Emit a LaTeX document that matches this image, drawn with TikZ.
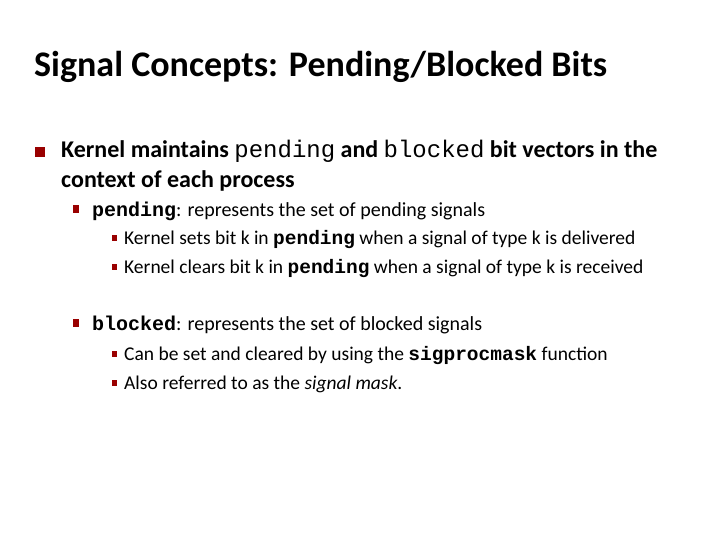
\documentclass[tikz,border=0pt]{standalone}
\usepackage{fontspec}
\setmainfont{Carlito}
\setmonofont{Liberation Mono}
\definecolor{bul}{RGB}{153,0,0}
\begin{document}
\begin{tikzpicture}[x=1pt,y=-1pt,
  txt/.style={anchor=base west,inner sep=0pt},
  lone/.style={txt,font=\fontsize{24}{28}\selectfont\bfseries},
  ltwo/.style={txt,font=\fontsize{20}{23}\selectfont},
  lthree/.style={txt,font=\fontsize{19.5}{22}\selectfont},
  bsq/.style={fill=bul,inner sep=0pt,draw=none}]
\useasboundingbox (0,0) rectangle (720,540);
\fill[white] (0,0) rectangle (720,540);
\node[txt,font=\fontsize{36}{40}\selectfont\bfseries] (title) at (34,77) {Signal Concepts: Pending/Blocked Bits};
\node[bsq,minimum size=10pt] (b1) at (40,152) {};
\node[lone] (l1) at (61,158) {Kernel maintains {\mdseries\ttfamily pending} and {\mdseries\ttfamily blocked} bit vectors in the};
\node[lone] (l1b) at (61,188) {context of each process};
\node[bsq,minimum width=6pt,minimum height=8pt] (b2) at (76,209) {};
\node[ltwo] (p) at (92,216) {\textbf{\ttfamily pending}: represents the set of pending signals};
\node[bsq,minimum width=5pt,minimum height=6pt] (b3) at (114,238) {};
\node[lthree] (p1) at (124,244) {Kernel sets bit k in {\bfseries\ttfamily pending} when a signal of type k is delivered};
\node[bsq,minimum width=5pt,minimum height=6pt] (b4) at (114,267) {};
\node[lthree] (p2) at (124,273) {Kernel clears bit k in {\bfseries\ttfamily pending} when a signal of type k is received};
\node[bsq,minimum width=6pt,minimum height=8pt] (b5) at (76,323) {};
\node[ltwo] (q) at (92,330) {\textbf{\ttfamily blocked}: represents the set of blocked signals};
\node[bsq,minimum width=5pt,minimum height=6pt] (b6) at (114,354) {};
\node[lthree] (q1) at (124,360) {Can be set and cleared by using the {\bfseries\ttfamily sigprocmask} function};
\node[bsq,minimum width=5pt,minimum height=6pt] (b7) at (114,383) {};
\node[lthree] (q2) at (124,389) {Also referred to as the \textit{signal mask}.};
\end{tikzpicture}
\end{document}
